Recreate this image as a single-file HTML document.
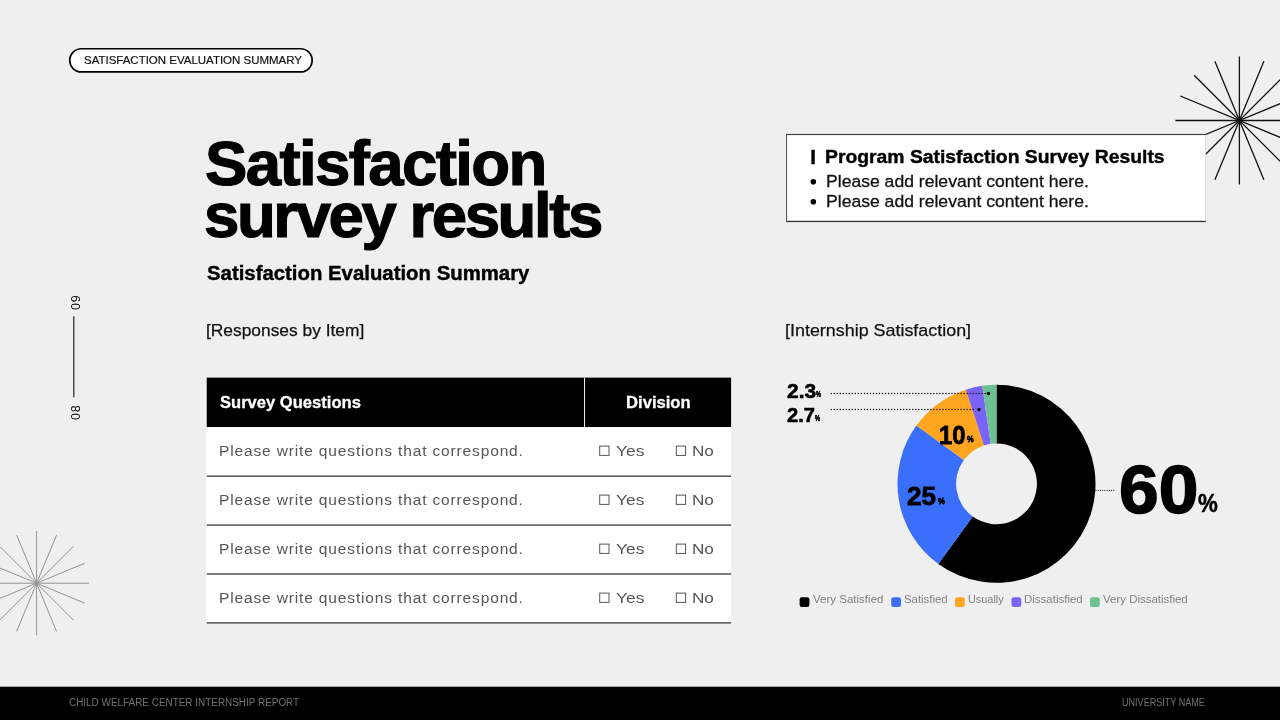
<!DOCTYPE html>
<html lang="en"><head><meta charset="utf-8"><title>Satisfaction survey results</title>
<style>
html,body{margin:0;padding:0}
body{width:1280px;height:720px;position:relative;overflow:hidden;background:#efefef;font-family:"Liberation Sans", sans-serif;color:#000}
.t{position:absolute;white-space:nowrap;line-height:1;transform-origin:0 50%;margin:0}
.layer{position:absolute;left:0;top:0}
.pg{position:absolute;font-size:12.5px;line-height:1;letter-spacing:0.9px;white-space:nowrap;color:#111;transform:rotate(-90deg);transform-origin:0 0}
</style></head><body>
<svg class="layer" width="1280" height="720" viewBox="0 0 1280 720"><g stroke="#111" stroke-width="1.3" fill="none"><line x1="1239.40" y1="184.50" x2="1239.40" y2="56.50"/><line x1="1214.91" y1="179.63" x2="1263.89" y2="61.37"/><line x1="1194.15" y1="165.75" x2="1284.65" y2="75.25"/><line x1="1180.27" y1="144.99" x2="1298.53" y2="96.01"/><line x1="1175.40" y1="120.50" x2="1303.40" y2="120.50"/><line x1="1180.27" y1="96.01" x2="1298.53" y2="144.99"/><line x1="1194.15" y1="75.25" x2="1284.65" y2="165.75"/><line x1="1214.91" y1="61.37" x2="1263.89" y2="179.63"/></g><g stroke="#939393" stroke-width="1" fill="none"><line x1="36.60" y1="635.40" x2="36.60" y2="531.00"/><line x1="16.62" y1="631.43" x2="56.58" y2="534.97"/><line x1="-0.31" y1="620.11" x2="73.51" y2="546.29"/><line x1="-11.63" y1="603.18" x2="84.83" y2="563.22"/><line x1="-15.60" y1="583.20" x2="88.80" y2="583.20"/><line x1="-11.63" y1="563.22" x2="84.83" y2="603.18"/><line x1="-0.31" y1="546.29" x2="73.51" y2="620.11"/><line x1="16.62" y1="534.97" x2="56.58" y2="631.43"/></g><line x1="73.8" y1="316.2" x2="73.8" y2="397.3" stroke="#222" stroke-width="1.2"/><rect x="69.75" y="48.75" width="242.4" height="23.2" rx="11.6" fill="#fff" stroke="#000" stroke-width="1.7"/><rect x="786.00" y="134.00" width="419.30" height="88.00" fill="#fff" /><rect x="786.00" y="133.90" width="419.80" height="1.20" fill="#444" /><rect x="786.00" y="220.80" width="419.80" height="1.30" fill="#333" /><rect x="786.00" y="133.90" width="1.10" height="88.20" fill="#5a5a5a" /><rect x="1205.00" y="135.00" width="1.00" height="86.00" fill="#dcdcdc" /><rect x="206.00" y="377.60" width="0.90" height="245.90" fill="#fafafa" /><rect x="206.70" y="377.60" width="524.40" height="49.60" fill="#000" /><rect x="584.00" y="377.60" width="1.00" height="49.60" fill="#eee" /><rect x="206.70" y="427.20" width="524.40" height="196.30" fill="#fff" /><rect x="206.70" y="475.45" width="524.40" height="1.50" fill="#555" /><rect x="599.7" y="446.1" width="9.3" height="9.3" fill="none" stroke="#555" stroke-width="1"/><rect x="676.3" y="446.1" width="9.3" height="9.3" fill="none" stroke="#555" stroke-width="1"/><rect x="206.70" y="524.35" width="524.40" height="1.50" fill="#555" /><rect x="599.7" y="495.1" width="9.3" height="9.3" fill="none" stroke="#555" stroke-width="1"/><rect x="676.3" y="495.1" width="9.3" height="9.3" fill="none" stroke="#555" stroke-width="1"/><rect x="206.70" y="573.25" width="524.40" height="1.50" fill="#555" /><rect x="599.7" y="544.1" width="9.3" height="9.3" fill="none" stroke="#555" stroke-width="1"/><rect x="676.3" y="544.1" width="9.3" height="9.3" fill="none" stroke="#555" stroke-width="1"/><rect x="206.70" y="622.15" width="524.40" height="1.50" fill="#555" /><rect x="599.7" y="593.1" width="9.3" height="9.3" fill="none" stroke="#555" stroke-width="1"/><rect x="676.3" y="593.1" width="9.3" height="9.3" fill="none" stroke="#555" stroke-width="1"/></svg>
<header><div class="t" id="pill" style="left:83.50px;top:55.11px;font-size:11.8px;transform:scaleX(0.9733);color:#111;-webkit-text-stroke:0.2px #111;">SATISFACTION EVALUATION SUMMARY</div>
<div class="t" id="h1a" style="left:205.10px;top:131.55px;font-size:63.5px;letter-spacing:-1.621px;font-weight:700;-webkit-text-stroke:1.2px #000;">Satisfaction</div><div class="t" id="h1b" style="left:204.10px;top:183.85px;font-size:63.5px;letter-spacing:-2.425px;font-weight:700;-webkit-text-stroke:1.2px #000;">survey results</div><div class="t" id="sub" style="left:207.20px;top:264.09px;font-size:19.5px;transform:scaleX(1.0440);font-weight:700;-webkit-text-stroke:0.4px #000;">Satisfaction Evaluation Summary</div></header>
<aside class="note">
<div class="t" id="bar" style="left:810.3px;top:146.5px;font-size:20.6px;font-weight:700;-webkit-text-stroke:0.4px #000">I</div>
<div class="t" id="boxh" style="left:824.89px;top:147.15px;font-size:19.2px;transform:scaleX(1.0078);font-weight:700;-webkit-text-stroke:0.4px #000;">Program Satisfaction Survey Results</div>
<div class="t" id="boxl1" style="left:825.53px;top:173.44px;font-size:17.2px;transform:scaleX(1.0225);color:#111;-webkit-text-stroke:0.3px #111;">Please add relevant content here.</div>
<div class="t" id="boxl2" style="left:825.53px;top:193.34px;font-size:17.2px;transform:scaleX(1.0225);color:#111;-webkit-text-stroke:0.3px #111;">Please add relevant content here.</div>
</aside>
<section class="responses">
<div class="t" id="lab1" style="left:206.10px;top:321.91px;font-size:17px;transform:scaleX(1.0213);color:#111;-webkit-text-stroke:0.25px #111;">[Responses by Item]</div>
<div class="t" id="th1" style="left:220.35px;top:393.90px;font-size:16.3px;transform:scaleX(1.0175);font-weight:700;color:#fff;-webkit-text-stroke:0.3px #fff;">Survey Questions</div><div class="t" id="th2" style="left:626.13px;top:393.90px;font-size:16.3px;transform:scaleX(1.0215);font-weight:700;color:#fff;-webkit-text-stroke:0.3px #fff;">Division</div>
<div class="t" id="q0" style="left:219.00px;top:443.38px;font-size:15.5px;letter-spacing:0.855px;color:#555;">Please write questions that correspond.</div><div class="t" id="y0" style="left:615.80px;top:443.38px;font-size:15.5px;transform:scaleX(1.1200);color:#555;">Yes</div><div class="t" id="n0" style="left:692.10px;top:443.38px;font-size:15.5px;transform:scaleX(1.1048);color:#555;">No</div><div class="t" id="q1" style="left:219.00px;top:492.38px;font-size:15.5px;letter-spacing:0.855px;color:#555;">Please write questions that correspond.</div><div class="t" id="y1" style="left:615.80px;top:492.38px;font-size:15.5px;transform:scaleX(1.1200);color:#555;">Yes</div><div class="t" id="n1" style="left:692.10px;top:492.38px;font-size:15.5px;transform:scaleX(1.1048);color:#555;">No</div><div class="t" id="q2" style="left:219.00px;top:541.38px;font-size:15.5px;letter-spacing:0.855px;color:#555;">Please write questions that correspond.</div><div class="t" id="y2" style="left:615.80px;top:541.38px;font-size:15.5px;transform:scaleX(1.1200);color:#555;">Yes</div><div class="t" id="n2" style="left:692.10px;top:541.38px;font-size:15.5px;transform:scaleX(1.1048);color:#555;">No</div><div class="t" id="q3" style="left:219.00px;top:590.38px;font-size:15.5px;letter-spacing:0.855px;color:#555;">Please write questions that correspond.</div><div class="t" id="y3" style="left:615.80px;top:590.38px;font-size:15.5px;transform:scaleX(1.1200);color:#555;">Yes</div><div class="t" id="n3" style="left:692.10px;top:590.38px;font-size:15.5px;transform:scaleX(1.1048);color:#555;">No</div>
</section>
<svg class="layer" width="1280" height="720" viewBox="0 0 1280 720">
<path d="M996.50 384.80A99.0 99.0 0 1 1 938.31 563.89L972.75 516.48A40.4 40.4 0 1 0 996.50 443.40Z" fill="#000000"/><path d="M938.31 563.89A99.0 99.0 0 0 1 916.41 425.61L963.82 460.05A40.4 40.4 0 0 0 972.75 516.48Z" fill="#3a6ffb"/><path d="M916.41 425.61A99.0 99.0 0 0 1 965.91 389.65L984.02 445.38A40.4 40.4 0 0 0 963.82 460.05Z" fill="#ffa51f"/><path d="M965.91 389.65A99.0 99.0 0 0 1 982.24 385.83L990.68 443.82A40.4 40.4 0 0 0 984.02 445.38Z" fill="#7a63f8"/><path d="M982.24 385.83A99.0 99.0 0 0 1 996.50 384.80L996.50 443.40A40.4 40.4 0 0 0 990.68 443.82Z" fill="#6dc08f"/>
<g stroke="#111" stroke-width="1.5" stroke-linecap="round" stroke-dasharray="0 3.02" fill="none">
<line x1="831.2" y1="393.5" x2="986" y2="393.5"/>
<line x1="831.2" y1="409.5" x2="976" y2="409.5"/>
</g>
<line x1="1096" y1="490.3" x2="1114.5" y2="490.3" stroke="#111" stroke-width="1.2" stroke-linecap="round" stroke-dasharray="0 2.22"/>
<circle cx="988.5" cy="393.5" r="1.7" fill="#000"/><circle cx="979" cy="409.5" r="1.7" fill="#000"/>
<circle cx="813.3" cy="181.7" r="2.8" fill="#000"/><circle cx="813.3" cy="201.7" r="2.8" fill="#000"/>
<rect x="799.6" y="597.2" width="9.8" height="9.8" rx="2.3" fill="#000"/><rect x="891.2" y="597.2" width="9.8" height="9.8" rx="2.3" fill="#3a6ffb"/><rect x="955" y="597.2" width="9.8" height="9.8" rx="2.3" fill="#ffa51f"/><rect x="1011.5" y="597.2" width="9.8" height="9.8" rx="2.3" fill="#7a63f8"/><rect x="1090" y="597.2" width="9.8" height="9.8" rx="2.3" fill="#6dc08f"/>
<rect x="0" y="686.7" width="1280" height="34" fill="#000"/>
</svg>
<section class="chart">
<div class="t" id="lab2" style="left:785.32px;top:321.91px;font-size:17px;transform:scaleX(1.0530);color:#111;-webkit-text-stroke:0.25px #111;">[Internship Satisfaction]</div>
<div class="t" id="p23" style="left:786.80px;top:380.12px;font-size:21px;transform:scaleX(0.9960);font-weight:700;-webkit-text-stroke:0.6px #000;">2.3</div><div class="t" id="p23p" style="left:816.20px;top:390.03px;font-size:9.3px;transform:scaleX(0.6000);font-weight:700;-webkit-text-stroke:0.6px #000;">%</div><div class="t" id="p27" style="left:786.80px;top:403.82px;font-size:21px;transform:scaleX(0.9574);font-weight:700;-webkit-text-stroke:0.6px #000;">2.7</div><div class="t" id="p27p" style="left:815.10px;top:414.13px;font-size:9.3px;transform:scaleX(0.6111);font-weight:700;-webkit-text-stroke:0.6px #000;">%</div><div class="t" id="p10" style="left:939.08px;top:421.59px;font-size:26px;transform:scaleX(0.9177);font-weight:700;-webkit-text-stroke:0.8px #000;">10</div><div class="t" id="p10p" style="left:966.80px;top:434.10px;font-size:9.8px;transform:scaleX(0.7556);font-weight:700;-webkit-text-stroke:0.8px #000;">%</div><div class="t" id="p25" style="left:907.40px;top:483.39px;font-size:26px;transform:scaleX(1.0049);font-weight:700;-webkit-text-stroke:0.8px #000;">25</div><div class="t" id="p25p" style="left:937.60px;top:496.30px;font-size:9.8px;transform:scaleX(0.7889);font-weight:700;-webkit-text-stroke:0.8px #000;">%</div><div class="t" id="p60" style="left:1119.28px;top:455.39px;font-size:69px;transform:scaleX(1.0335);font-weight:700;-webkit-text-stroke:1.5px #000;">60</div><div class="t" id="p60p" style="left:1197.85px;top:489.99px;font-size:26px;transform:scaleX(0.8565);font-weight:700;-webkit-text-stroke:0.5px #000;">%</div>
<div class="t" id="lg1" style="left:813.00px;top:594.01px;font-size:11.8px;transform:scaleX(0.9767);color:#808080;">Very Satisfied</div><div class="t" id="lg2" style="left:904.00px;top:594.01px;font-size:11.8px;transform:scaleX(0.9623);color:#808080;">Satisfied</div><div class="t" id="lg3" style="left:967.80px;top:594.01px;font-size:11.8px;transform:scaleX(0.9231);color:#808080;">Usually</div><div class="t" id="lg4" style="left:1023.80px;top:594.01px;font-size:11.8px;transform:scaleX(0.9740);color:#808080;">Dissatisfied</div><div class="t" id="lg5" style="left:1103.00px;top:594.01px;font-size:11.8px;transform:scaleX(0.9719);color:#808080;">Very Dissatisfied</div>
</section>
<nav class="pages">
<div class="pg" style="left:69.5px;top:309.5px">09</div>
<div class="pg" style="left:69.5px;top:419.5px">08</div>
</nav>
<footer><div class="t" id="f1" style="left:68.75px;top:697.93px;font-size:10px;transform:scaleX(0.9926);color:#727272;">CHILD WELFARE CENTER INTERNSHIP REPORT</div><div class="t" id="f2" style="left:1121.70px;top:697.93px;font-size:10px;transform:scaleX(0.9053);color:#727272;">UNIVERSITY NAME</div></footer>
</body></html>
